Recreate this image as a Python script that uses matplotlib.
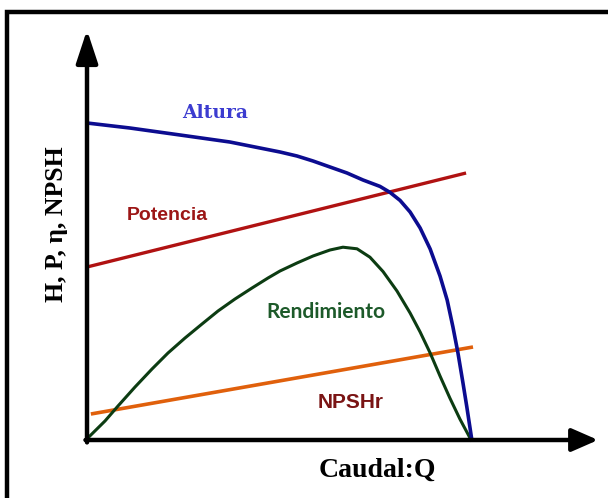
import matplotlib
matplotlib.use("Agg")
import matplotlib.pyplot as plt
from matplotlib.patches import Rectangle

# caudal Q (0-100) y valores relativos (0-100)
q_altura = [0, 11.1, 24.1, 37.0, 50.0, 54.4, 58.55, 62.95, 67.36, 71.5, 75.9, 78.5,
            81.1, 83.7, 86.3, 88.9, 91.45, 93.3, 94.8, 96.1, 97.4, 98.4, 99.7]
h_altura = [79.25, 78.0, 76.25, 74.5, 72.0, 71.0, 69.75, 68.25, 66.75, 65.0, 63.4, 61.9,
            59.9, 57.0, 53.0, 47.75, 41.0, 35.0, 28.25, 21.75, 14.25, 8.25, 0]

q_rend = [0, 4.66, 8.03, 12.44, 16.84, 20.98, 25.39, 29.79, 33.94, 38.34, 42.75, 46.89,
          50.0, 54.4, 58.55, 62.95, 66.3, 69.95, 73.3, 76.7, 80.3, 83.7, 86.3, 88.9,
          91.45, 94.0, 96.6, 99.5]
eta_rend = [0.3, 4.75, 8.5, 13.25, 17.75, 21.75, 25.5, 29.0, 32.25, 35.25, 38.0, 40.5,
            42.25, 44.25, 46.0, 47.5, 48.2, 47.8, 45.7, 42.1, 37.25, 31.75, 27.0, 21.75,
            16.0, 10.5, 5.25, 0]

q_pot = [0, 98.2]
p_pot = [43.25, 66.75]

q_npsh = [1.0, 100]
npsh_r = [6.5, 23.25]

fig = plt.figure(figsize=(6.08, 4.98), dpi=100)
ax = fig.add_axes([0, 0, 1, 1])
ax.set_xlim(-22.54, 134.97)
ax.set_ylim(-14.5, 110)
ax.axis("off")

# marco negro
fig.patches.append(Rectangle((7 / 608, -0.05), 1.2, 1.05 - 12 / 498,
                             transform=fig.transFigure, fill=False,
                             edgecolor="black", linewidth=3.2, zorder=0))

# ejes con flechas
ax.annotate("", xy=(0, 102.5), xytext=(0, -0.6),
            arrowprops=dict(arrowstyle="-|>,head_length=1.0,head_width=0.33",
                            mutation_scale=20, color="black", lw=3.2,
                            shrinkA=0, shrinkB=0))
ax.annotate("", xy=(132.4, 0), xytext=(-0.4, 0),
            arrowprops=dict(arrowstyle="-|>,head_length=0.8,head_width=0.35",
                            mutation_scale=20, color="black", lw=3.2,
                            shrinkA=0, shrinkB=0))

ax.plot(q_pot, p_pot, color="#b01212", lw=2.4, solid_capstyle="butt")
ax.plot(q_npsh, npsh_r, color="#e0600c", lw=2.6, solid_capstyle="butt")
ax.plot(q_rend, eta_rend, color="#0c3c12", lw=2.2, solid_joinstyle="round")
ax.plot(q_altura, h_altura, color="#0c0c90", lw=2.6, solid_joinstyle="round")

ax.text(33.2, 81.75, "Altura", color="#3c3cd0", fontsize=13.5,
        family="DejaVu Serif", weight="bold", ha="center", va="center")
ax.text(20.7, 56.25, "Potencia", color="#9c1616", fontsize=14,
        family="Liberation Sans", weight="bold", ha="center", va="center")
ax.text(61.9, 32.0, "Rendimiento", color="#1d5a2a", fontsize=15,
        family="Lato", weight="bold", ha="center", va="center")
ax.text(68.2, 9.5, "NPSHr", color="#7a1414", fontsize=15,
        family=["Liberation Sans Narrow", "Liberation Sans"], weight="bold",
        ha="center", va="center")

ax.text(75.1, -7.6, "Caudal:Q", color="black", fontsize=20,
        family="Liberation Serif", weight="bold", ha="center", va="center")
ax.text(-7.8, 54, "H, P, η, NPSH", color="black", fontsize=18.5,
        family="Liberation Serif", weight="bold", ha="center", va="center",
        rotation=90)

fig.savefig("out.png", dpi=100)
